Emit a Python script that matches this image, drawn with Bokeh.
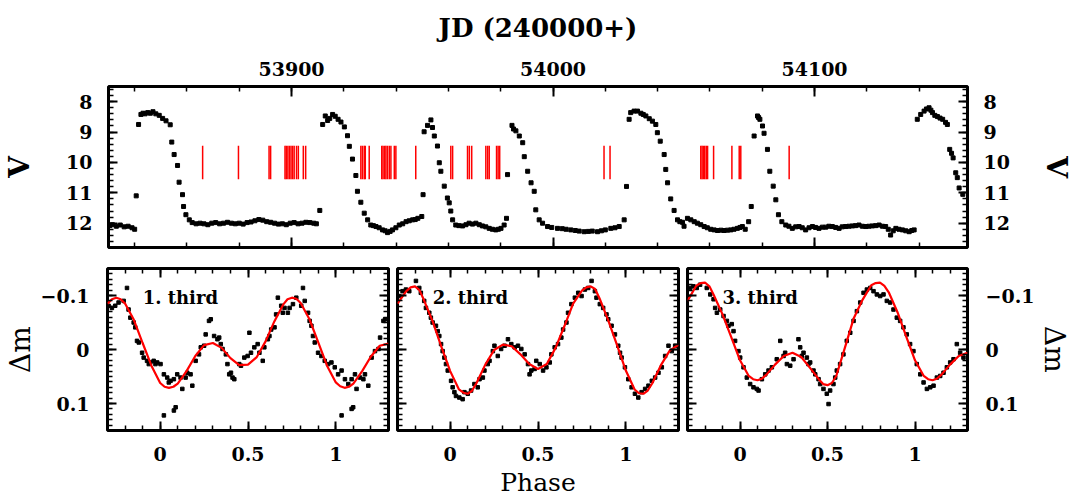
from bokeh.plotting import figure
from bokeh.models import (Range1d, LinearAxis, SingleIntervalTicker,
                          CustomJSTickFormatter, ColumnDataSource, Label)
from bokeh.layouts import column, row
from bokeh.embed import file_html
from bokeh.resources import INLINE

# ---------------- data: light curve (JD - 2400000, V) ----------------
jd = [53830.5, 53831.5, 53833.0, 53834.5, 53836.0, 53837.5, 53839.0, 53840.0,
      53840.6, 53841.5, 53842.4, 53843.2, 53844.0, 53845.0, 53846.0, 53847.0, 53848.1,
      53849.4, 53850.7, 53852.0, 53853.6, 53854.2, 53855.1, 53856.4, 53857.0, 53858.3,
      53858.7, 53859.6, 53860.9,
      53862.0, 53863.5, 53865.0, 53866.5, 53868.0, 53869.5, 53871.0, 53872.5, 53874.0,
      53875.5, 53877.0, 53878.5, 53880.0, 53881.5, 53883.0, 53884.5, 53886.0, 53887.5,
      53889.0, 53890.5, 53892.0, 53893.5, 53895.0, 53896.5, 53898.0, 53899.5, 53901.0,
      53902.5, 53904.0, 53905.5, 53907.0, 53908.5, 53909.5, 53910.8,
      53911.9, 53912.9, 53913.8, 53914.6, 53915.7, 53916.7, 53917.8, 53918.9, 53920.2,
      53921.4, 53922.1, 53923.3, 53924.6, 53925.2, 53926.5, 53927.8, 53929.1, 53930.3,
      53931.3, 53932.3, 53933.5, 53934.8, 53935.8, 53936.7, 53937.7, 53938.6, 53939.9,
      53941.2, 53942.5, 53943.8, 53945.0, 53946.3, 53947.3, 53948.3, 53949.8, 53950.3,
      53950.7, 53952.0, 53953.3, 53953.9, 53954.6, 53955.8, 53956.5, 53957.1, 53958.4,
      53959.6, 53960.3, 53960.9, 53961.6, 53962.8, 53964.0, 53965.4, 53966.7, 53967.9,
      53969.2, 53970.5, 53971.8, 53973.0, 53974.3, 53975.6, 53976.8, 53978.1, 53979.1,
      53980.1, 53981.3, 53982.2, 53982.6,
      53984.3, 53984.9, 53985.8, 53987.1, 53988.4, 53989.0, 53990.3, 53991.6, 53992.8,
      53993.4, 53994.7, 53996.0, 53997.9, 53999.5, 54001.7, 54003.5, 54005.0, 54006.8,
      54008.5, 54010.0, 54011.9, 54013.5, 54015.0, 54017.0, 54018.5, 54020.0, 54022.1,
      54023.7, 54025.3, 54027.2, 54028.1,
      54029.1, 54029.7, 54031.0, 54032.3, 54033.6, 54034.5, 54035.5, 54036.8, 54038.0,
      54039.3, 54039.9, 54041.0, 54042.5, 54043.1, 54043.8, 54045.0, 54046.3, 54047.6,
      54048.5, 54049.5, 54050.1, 54051.4, 54052.7, 54054.0, 54055.2, 54056.5, 54057.8,
      54059.0, 54060.3, 54061.6, 54062.9, 54064.2, 54065.4, 54066.7, 54068.0, 54069.2,
      54070.5, 54071.5, 54072.4, 54073.5, 54074.8, 54075.8,
      54076.9, 54078.2, 54078.6, 54079.1, 54080.1, 54080.7, 54082.0, 54082.9, 54084.2,
      54085.2, 54086.2, 54087.5,
      54089.0, 54090.2, 54091.5, 54092.8, 54094.1, 54095.3, 54096.6, 54097.9, 54099.2,
      54100.4, 54101.7, 54103.0, 54104.3, 54105.5, 54106.8, 54108.1, 54109.4, 54110.6,
      54111.9, 54113.2, 54114.5, 54115.7, 54117.0, 54118.3, 54119.6, 54120.8, 54122.1,
      54123.4, 54124.7, 54126.0, 54127.2, 54128.2, 54129.1, 54130.1, 54131.1, 54132.3,
      54133.6, 54134.9, 54136.2, 54137.2, 54138.1,
      54139.3, 54140.6, 54141.9, 54142.8, 54143.8, 54144.5, 54145.1, 54146.0, 54147.0,
      54148.0, 54149.0, 54150.1, 54150.8, 54151.7, 54152.4, 54153.0, 54154.0, 54154.6,
      54155.3, 54156.7]
vmag = [12.08, 12.05, 12.10, 12.06, 12.12, 12.10, 12.15, 12.20,
        11.10, 8.75, 8.42, 8.38, 8.40, 8.36, 8.38, 8.33, 8.40,
        8.45, 8.55, 8.63, 8.76, 9.33, 9.74, 10.10, 10.65, 11.06,
        11.45, 11.72, 11.89,
        11.98, 12.02, 12.00, 12.02, 12.05, 12.00, 11.98, 12.02, 12.00,
        11.97, 12.00, 12.02, 12.00, 12.03, 11.98, 11.96, 11.92, 11.88,
        11.90, 11.95, 11.97, 12.00, 12.03, 12.02, 12.05, 12.00, 11.98,
        12.02, 12.00, 11.97, 11.98, 12.00, 12.02, 11.58,
        8.75, 8.47, 8.62, 8.55, 8.42, 8.48, 8.58, 8.67, 8.83,
        9.12, 9.47, 9.89, 10.43, 10.95, 11.31, 11.67, 11.89, 12.06,
        12.08, 12.11, 12.15, 12.22, 12.25, 12.31, 12.27, 12.22, 12.15,
        12.06, 12.02, 11.95, 11.92, 11.89, 11.88, 11.84, 11.78, 11.06,
        8.99, 8.78, 8.60, 8.85, 9.13, 9.46, 10.01, 10.29, 10.78,
        11.17, 11.33, 11.60, 11.89, 12.06, 12.08, 12.09, 12.05, 12.00,
        12.03, 12.00, 12.05, 12.09, 12.12, 12.17, 12.20, 12.22, 12.20,
        12.17, 12.06, 11.84, 10.40,
        8.78, 8.90, 8.96, 9.13, 9.35, 9.81, 10.29, 10.67, 10.95,
        11.56, 11.89, 12.00, 12.11, 12.14, 12.17, 12.18, 12.20, 12.22,
        12.24, 12.26, 12.28, 12.27, 12.26, 12.28, 12.25, 12.22, 12.17,
        12.15, 12.11, 11.89, 10.79,
        8.58, 8.36, 8.31, 8.31, 8.38, 8.42, 8.47, 8.56, 8.64,
        8.75, 9.02, 9.30, 9.74, 10.23, 10.67, 11.20, 11.58, 11.89,
        11.95, 11.97, 12.10, 11.84, 11.89, 11.95, 12.00, 12.05, 12.11,
        12.15, 12.20, 12.22, 12.24, 12.23, 12.24, 12.23, 12.22, 12.20,
        12.17, 12.14, 12.11, 12.20, 11.95, 11.45,
        9.13, 8.47, 8.52, 8.58, 8.80, 9.04, 9.57, 10.29, 10.78,
        11.23, 11.72, 11.95,
        12.06, 12.10, 12.17, 12.12, 12.11, 12.15, 12.22, 12.15, 12.11,
        12.14, 12.17, 12.13, 12.13, 12.10, 12.11, 12.14, 12.17, 12.12,
        12.11, 12.10, 12.09, 12.08, 12.06, 12.10, 12.11, 12.10, 12.09,
        12.08, 12.06, 12.10, 12.11, 12.20, 12.39, 12.25, 12.17, 12.20,
        12.22, 12.25, 12.28, 12.24, 12.22,
        8.58, 8.42, 8.31, 8.24, 8.20, 8.28, 8.36, 8.45, 8.49,
        8.54, 8.58, 8.68, 8.75, 9.57, 9.70, 9.85, 10.34, 10.50,
        10.84, 11.05]

# epochs marked in red (JD - 2400000) and the V extent of each mark
red_jd = [53866.0, 53879.7, 53891.4, 53892.0, 53897.5, 53898.0, 53898.6, 53899.2,
          53899.8, 53900.4, 53901.0, 53901.9, 53902.6, 53904.5, 53905.4,
          53926.5, 53927.1, 53927.8, 53928.2, 53929.7, 53934.5, 53935.0, 53935.6,
          53936.1, 53936.7, 53937.4, 53938.0, 53939.3, 53939.9, 53947.5,
          53960.9, 53961.6, 53967.3, 53968.0, 53968.9, 53974.3, 53975.0, 53975.6,
          53978.4, 53979.0, 53979.6,
          54019.5, 54021.8,
          54056.5, 54057.0, 54057.5, 54058.0, 54058.6, 54059.1, 54061.4, 54068.4,
          54071.2, 54071.8, 54090.3]
red_v_top = 9.45
red_v_bottom = 10.55

# ---------------- data: phase diagrams ----------------
fit_phase1 = [-0.300, -0.275, -0.250, -0.225, -0.200, -0.150, -0.100, -0.050, 0.000,
              0.025, 0.050, 0.075, 0.100, 0.150, 0.200, 0.250, 0.300, 0.350, 0.400,
              0.450, 0.500, 0.550, 0.600, 0.650, 0.700, 0.725, 0.750, 0.775, 0.800,
              0.850, 0.900, 0.950, 1.000, 1.025, 1.050, 1.075, 1.100, 1.150, 1.200,
              1.250, 1.300]
fit1 = [-0.085, -0.093, -0.096, -0.093, -0.085, -0.055, -0.012, 0.030, 0.062,
        0.069, 0.071, 0.069, 0.063, 0.040, 0.012, -0.008, -0.012, -0.003, 0.016,
        0.029, 0.028, 0.014, -0.015, -0.052, -0.083, -0.093, -0.096, -0.094, -0.086,
        -0.056, -0.013, 0.030, 0.061, 0.068, 0.071, 0.069, 0.063, 0.040, 0.013,
        -0.007, -0.011]
fit_phase2 = [-0.300, -0.250, -0.225, -0.200, -0.175, -0.150, -0.100, -0.050, 0.000,
              0.050, 0.075, 0.100, 0.125, 0.150, 0.200, 0.250, 0.300, 0.350, 0.400,
              0.450, 0.500, 0.550, 0.600, 0.650, 0.700, 0.750, 0.775, 0.800, 0.825,
              0.850, 0.900, 0.950, 1.000, 1.050, 1.075, 1.100, 1.125, 1.150, 1.200,
              1.250, 1.300]
fit2 = [-0.085, -0.108, -0.115, -0.117, -0.110, -0.092, -0.052, -0.005, 0.040,
        0.074, 0.080, 0.082, 0.076, 0.062, 0.028, 0.001, -0.009, -0.006, 0.009,
        0.027, 0.036, 0.027, -0.003, -0.043, -0.085, -0.109, -0.115, -0.117, -0.112,
        -0.095, -0.054, -0.008, 0.039, 0.074, 0.081, 0.082, 0.076, 0.063, 0.029,
        0.002, -0.009]
fit_phase3 = [-0.300, -0.250, -0.225, -0.200, -0.175, -0.150, -0.100, -0.050, 0.000,
              0.050, 0.075, 0.100, 0.125, 0.150, 0.200, 0.250, 0.300, 0.350, 0.400,
              0.450, 0.475, 0.500, 0.525, 0.550, 0.600, 0.650, 0.700, 0.750, 0.775,
              0.800, 0.825, 0.850, 0.900, 0.950, 1.000, 1.050, 1.075, 1.100, 1.125,
              1.150, 1.200, 1.250, 1.300]
fit3 = [-0.090, -0.118, -0.123, -0.124, -0.117, -0.101, -0.065, -0.023, 0.020,
        0.049, 0.055, 0.057, 0.054, 0.047, 0.028, 0.012, 0.006, 0.014, 0.034,
        0.055, 0.064, 0.066, 0.062, 0.049, -0.004, -0.058, -0.092, -0.119, -0.123,
        -0.124, -0.118, -0.106, -0.069, -0.024, 0.020, 0.049, 0.055, 0.057, 0.054,
        0.047, 0.028, 0.012, 0.006]

ph1 = [-0.294, -0.275, -0.256, -0.237, -0.208, -0.189, -0.180, -0.170, -0.151, -0.142,
       -0.132, -0.122, -0.103, -0.094, -0.075, -0.065, -0.056, -0.037, -0.027, -0.017,
       0.002, 0.021, 0.040, 0.049, 0.059, 0.078, 0.097, 0.116, 0.126, 0.145, 0.154, 0.173,
       0.183, 0.021, 0.078, 0.088, 0.202, 0.221, 0.231, 0.250, 0.259, 0.278, 0.288, 0.307,
       0.326, 0.336, 0.345, 0.355, 0.374, 0.383, 0.393, 0.403, 0.412, 0.422, 0.450, 0.460,
       0.479, 0.498, 0.508, 0.517, 0.536, 0.555, 0.565, 0.584, 0.593, 0.613, 0.622, 0.632,
       0.651, 0.660, 0.670, 0.689, 0.698, 0.708, 0.727, 0.737, 0.756, 0.775, 0.803, 0.813,
       0.823, 0.842, 0.851, 0.861, 0.870, 0.880, 0.899, 0.918, 0.937, 0.956, 0.975, 0.994,
       1.013, 1.033, 1.052, 1.071, 1.090, 1.109, 1.118, 1.138, 1.157, 1.166, 1.185, 1.033,
       1.090, 1.099, 1.204, 1.223, 1.243, 1.252, 1.271, 1.281]
dm1 = [-0.081, -0.077, -0.081, -0.087, -0.090, -0.114, -0.074, -0.059, -0.050, -0.041,
       -0.016, -0.013, 0.006, 0.015, 0.021, 0.027, 0.024, 0.021, 0.027, 0.024,
       0.027, 0.046, 0.052, 0.061, 0.058, 0.055, 0.046, 0.052, 0.073, 0.052, 0.043, 0.046,
       0.067, 0.122, 0.113, 0.107, 0.021, 0.009, -0.004, -0.007, -0.028, -0.053, -0.056, -0.025,
       -0.019, -0.022, -0.010, -0.001, 0.009, 0.027, 0.046, 0.043, 0.052, 0.055, 0.027, 0.030,
       0.015, 0.012, -0.031, 0.006, -0.004, -0.010, 0.006, 0.021, -0.004, -0.019, -0.025, -0.037,
       -0.041, -0.065, -0.096, -0.081, -0.068, -0.077, -0.068, -0.077, -0.084, -0.096, -0.081, -0.114,
       -0.090, -0.068, -0.053, -0.044, -0.025, -0.013, 0.006, 0.012, 0.021, 0.027, 0.024, 0.033,
       0.046, 0.039, 0.055, 0.064, 0.055, 0.046, 0.073, 0.052, 0.055, 0.046, 0.067, 0.122,
       0.110, 0.107, 0.015, 0.003, -0.001, -0.022, -0.053, -0.056]

ph2 = [-0.290, -0.271, -0.252, -0.233, -0.195, -0.176, -0.167, -0.148, -0.138, -0.119,
       -0.110, -0.100, -0.081, -0.071, -0.062, -0.052, -0.043, -0.033, -0.024, -0.014,
       0.005, 0.014, 0.024, 0.033, 0.052, 0.071, 0.081, 0.100, 0.119, 0.138, 0.157, 0.167,
       0.186, 0.195, 0.214, 0.224, 0.243, 0.252, 0.271, 0.290, 0.310, 0.329, 0.348, 0.367,
       0.386, 0.405, 0.424, 0.443, 0.452, 0.462, 0.481, 0.490, 0.510, 0.529, 0.548, 0.567,
       0.576, 0.595, 0.614, 0.633, 0.643, 0.662, 0.671, 0.690, 0.710, 0.729, 0.748, 0.767,
       0.786, 0.805, 0.824, 0.833, 0.852, 0.871, 0.890, 0.900, 0.919, 0.938, 0.957, 0.967,
       0.976, 0.995, 1.014, 1.033, 1.052, 1.071, 1.090, 1.110, 1.129, 1.148, 1.167, 1.186,
       1.205, 1.224, 1.243, 1.262, 1.281]
dm2 = [-0.099, -0.108, -0.111, -0.108, -0.127, -0.114, -0.105, -0.090, -0.077, -0.068,
       -0.059, -0.050, -0.044, -0.034, -0.025, -0.010, 0.003, 0.015, 0.027, 0.039,
       0.058, 0.070, 0.079, 0.086, 0.089, 0.092, 0.079, 0.082, 0.076, 0.064, 0.070, 0.055,
       0.052, 0.039, 0.027, 0.021, 0.003, -0.007, 0.012, -0.001, -0.007, -0.019, -0.010, -0.004,
       -0.007, -0.001, 0.009, 0.027, 0.046, 0.039, 0.036, 0.021, 0.027, 0.039, 0.033, 0.024,
       0.009, -0.004, -0.010, -0.022, -0.037, -0.050, -0.068, -0.084, -0.096, -0.105, -0.099, -0.111,
       -0.114, -0.127, -0.108, -0.096, -0.084, -0.077, -0.065, -0.056, -0.044, -0.028, -0.007, 0.006,
       0.015, 0.033, 0.055, 0.070, 0.082, 0.089, 0.079, 0.073, 0.067, 0.058, 0.052, 0.043,
       0.033, 0.012, -0.007, 0.003, -0.007]

ph3 = [-0.285, -0.266, -0.247, -0.228, -0.190, -0.170, -0.151, -0.142, -0.132, -0.113,
       -0.094, -0.075, -0.066, -0.047, -0.037, -0.028, -0.009, 0.001, 0.020, 0.039,
       0.058, 0.077, 0.096, 0.106, 0.125, 0.144, 0.163, 0.182, 0.210, 0.230, 0.249, 0.258,
       0.268, 0.287, 0.306, 0.334, 0.344, 0.353, 0.363, 0.382, 0.391, 0.401, 0.420, 0.430,
       0.449, 0.458, 0.477, 0.496, 0.506, 0.515, 0.534, 0.544, 0.553, 0.572, 0.591, 0.610,
       0.630, 0.649, 0.668, 0.687, 0.706, 0.725, 0.744, 0.763, 0.782, 0.801, 0.820, 0.839,
       0.858, 0.877, 0.896, 0.915, 0.934, 0.953, 0.972, 0.991, 1.010, 1.030, 1.049, 1.068,
       1.087, 1.106, 1.125, 1.144, 1.163, 1.182, 1.201, 1.220, 1.239, 1.258, 1.277]
dm3 = [-0.114, -0.117, -0.114, -0.120, -0.114, -0.102, -0.093, -0.077, -0.068, -0.074,
       -0.062, -0.053, -0.044, -0.047, -0.034, -0.016, 0.003, 0.015, 0.033, 0.052,
       0.064, 0.070, 0.073, 0.076, 0.055, 0.046, 0.039, 0.033, 0.018, -0.016, 0.012, 0.006,
       0.027, 0.030, 0.018, -0.019, -0.004, 0.012, 0.006, 0.015, 0.027, 0.024, 0.039, 0.046,
       0.055, 0.064, 0.073, 0.082, 0.101, 0.076, 0.064, 0.052, 0.039, 0.027, 0.009, -0.016,
       -0.031, -0.053, -0.071, -0.087, -0.105, -0.111, -0.114, -0.108, -0.102, -0.099, -0.102, -0.090,
       -0.087, -0.074, -0.059, -0.053, -0.041, -0.028, -0.010, 0.003, 0.027, 0.046, 0.061, 0.073,
       0.070, 0.067, 0.052, 0.049, 0.043, 0.033, 0.024, 0.018, -0.010, 0.006, 0.015]

panel_titles = ["1. third", "2. third", "3. third"]

# ---------------- styling helpers ----------------
FONT = "DejaVu Serif"
FMT_CODE = "return String(Math.round(tick*100)/100).replace('-', '\\u2212');"


def make_axis(interval, minor, major_in, minor_in, show_labels, standoff):
    ax = LinearAxis(ticker=SingleIntervalTicker(interval=interval, num_minor_ticks=minor),
                    formatter=CustomJSTickFormatter(code=FMT_CODE))
    ax.axis_line_color = None
    ax.major_tick_in = major_in
    ax.major_tick_out = 0
    ax.minor_tick_in = minor_in
    ax.minor_tick_out = 0
    ax.major_tick_line_width = 2
    ax.minor_tick_line_width = 1.5
    ax.major_tick_line_color = "black"
    ax.minor_tick_line_color = "black"
    if show_labels:
        ax.major_label_text_font = FONT
        ax.major_label_text_font_style = "bold"
        ax.major_label_text_font_size = "19px"
        ax.major_label_text_color = "black"
        ax.major_label_standoff = standoff
    else:
        ax.major_label_text_font_size = "0px"
        ax.major_label_text_color = None
        ax.major_label_standoff = 0
    ax.axis_label_text_color = "black"
    ax.axis_label_text_font = FONT
    return ax


def base_fig(fw, fh, xr, yr, bl, br, bt, bb):
    f = figure(frame_width=fw, frame_height=fh, x_range=xr, y_range=yr,
               x_axis_location=None, y_axis_location=None,
               toolbar_location=None, output_backend="svg",
               min_border_left=bl, min_border_right=br,
               min_border_top=bt, min_border_bottom=bb)
    f.grid.visible = False
    f.outline_line_color = "black"
    f.outline_line_width = 3
    f.background_fill_color = "white"
    f.border_fill_color = "white"
    return f


# ---------------- top panel ----------------
top = base_fig(859, 161, Range1d(53830, 54158.5), Range1d(12.8, 7.5), 107, 105, 86, 10)

ax_top = make_axis(100, 5, 10, 5, True, 11)
ax_top.axis_label = "JD (240000+)"
ax_top.axis_label_text_font_style = "bold"
ax_top.axis_label_text_font_size = "26px"
ax_top.axis_label_standoff = 16
top.add_layout(ax_top, "above")
top.add_layout(make_axis(100, 5, 10, 5, False, 0), "below")

for side in ("left", "right"):
    ax = make_axis(1, 5, 9, 5, True, 16)
    ax.axis_label = "V"
    ax.axis_label_text_font_style = "bold"
    ax.axis_label_text_font_size = "28px"
    ax.axis_label_standoff = 27
    top.add_layout(ax, side)

red_src = ColumnDataSource(dict(x=red_jd, y0=[red_v_top] * len(red_jd),
                                y1=[red_v_bottom] * len(red_jd)))
top.segment(x0="x", y0="y0", x1="x", y1="y1", source=red_src,
            line_color="red", line_width=1.5)
top.scatter(jd, vmag, marker="square", size=4, color="black")

# ---------------- phase panels ----------------
panels = []
borders = [(107, 5), (4, 5), (4, 104)]
fit_ph = [fit_phase1, fit_phase2, fit_phase3]
fits = [fit1, fit2, fit3]
phs = [ph1, ph2, ph3]
dms = [dm1, dm2, dm3]
for i in range(3):
    bl, br = borders[i]
    fw = 281 if i < 2 else 280
    f = base_fig(fw, 162, Range1d(-0.3, 1.3), Range1d(0.15, -0.15), bl, br, 11, 70)

    axb = make_axis(0.5, 5, 9, 5, True, 16)
    if i == 1:
        axb.axis_label = "Phase"
        axb.axis_label_text_font_style = "normal"
        axb.axis_label_text_font_size = "25px"
        axb.axis_label_standoff = 4
    f.add_layout(axb, "below")
    f.add_layout(make_axis(0.5, 5, 9, 5, False, 0), "above")

    for side, show in (("left", i == 0), ("right", i == 2)):
        ax = make_axis(0.1, 10, 9, 5, show, 18)
        if show:
            ax.axis_label = "\u0394m"
            ax.axis_label_text_font_style = "normal"
            ax.axis_label_text_font_size = "28px"
            ax.axis_label_standoff = 1
        f.add_layout(ax, side)

    f.scatter(phs[i], dms[i], marker="square", size=3.5, color="black")
    f.line(fit_ph[i], fits[i], line_color="red", line_width=2.2)
    f.add_layout(Label(x=-0.1, y=-0.097, text=panel_titles[i], text_font=FONT,
                       text_font_style="bold", text_font_size="18px",
                       text_color="black",
                       text_baseline="alphabetic", text_align="left"))
    panels.append(f)

layout = column(top, row(*panels, spacing=0), spacing=0)

with open("out.html", "w") as fh:
    fh.write(file_html(layout, INLINE))
